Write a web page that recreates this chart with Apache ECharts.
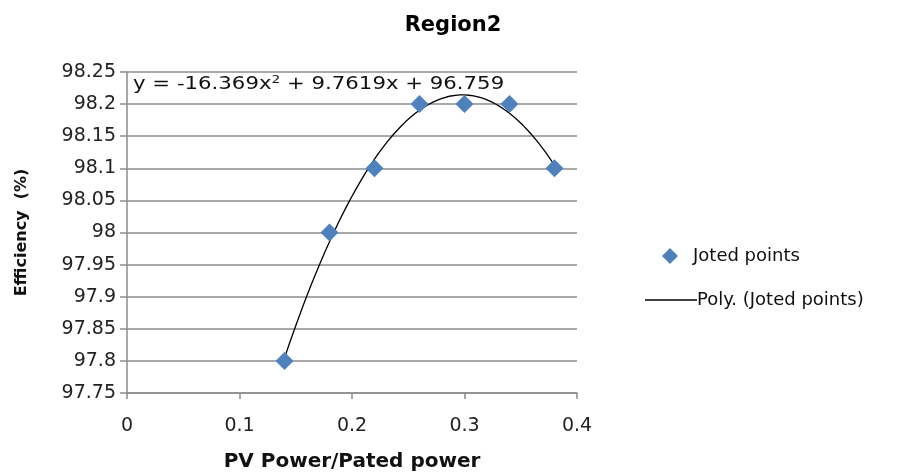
<!DOCTYPE html>
<html><head><meta charset="utf-8">
<script src="https://cdn.jsdelivr.net/npm/echarts@6/dist/echarts.min.js"></script>
<style>html,body{margin:0;padding:0;background:#fff}#c{width:906px;height:473px}</style>
</head><body><div id="c"></div>
<script>
const xValues = [0.14, 0.18, 0.22, 0.26, 0.30, 0.34, 0.38];
const yValues = [97.8, 98.0, 98.1, 98.2, 98.2, 98.2, 98.1];
const xTicks = [0, 0.1, 0.2, 0.3, 0.4];
const yTicks = [97.75, 97.8, 97.85, 97.9, 97.95, 98, 98.05, 98.1, 98.15, 98.2, 98.25];
const seriesName = 'Joted points';
const trendName = 'Poly. (Joted points)';
const titleText = 'Region2';
const xTitle = 'PV Power/Pated power';
const yTitle = 'Efficiency  (%)';

// least squares quadratic fit (Excel polynomial trendline, order 2)
function quadFit(xs, ys) {
  let S = [0,0,0,0,0], T = [0,0,0];
  for (let i = 0; i < xs.length; i++) {
    let p = 1;
    for (let k = 0; k < 5; k++) { S[k] += p; if (k < 3) T[k] += p * ys[i]; p *= xs[i]; }
  }
  const A = [[S[0],S[1],S[2],T[0]],[S[1],S[2],S[3],T[1]],[S[2],S[3],S[4],T[2]]];
  for (let i = 0; i < 3; i++) {
    for (let j = i + 1; j < 3; j++) {
      const f = A[j][i] / A[i][i];
      for (let k = i; k < 4; k++) A[j][k] -= f * A[i][k];
    }
  }
  const r = [0,0,0];
  for (let i = 2; i >= 0; i--) {
    let s = A[i][3];
    for (let k = i + 1; k < 3; k++) s -= A[i][k] * r[k];
    r[i] = s / A[i][i];
  }
  return r; // c0, c1, c2
}
const coef = quadFit(xValues, yValues);
const trend = [];
const x0 = Math.min(...xValues), x1 = Math.max(...xValues);
for (let i = 0; i <= 60; i++) {
  const x = x0 + (x1 - x0) * i / 60;
  trend.push([x, coef[0] + coef[1] * x + coef[2] * x * x]);
}
const points = xValues.map((x, i) => [x, yValues[i]]);

const font = '"DejaVu Sans", sans-serif';
const chart = echarts.init(document.getElementById('c'));
chart.setOption({
  animation: false,
  backgroundColor: '#fff',
  title: {
    text: titleText, left: 448, top: 10, textAlign: 'center',
    textStyle: { fontFamily: font, fontSize: 21, fontWeight: 'bold', color: '#000' }
  },
  grid: { left: 127, right: 329, top: 72, bottom: 80, containLabel: false, outerBoundsMode: 'none' },
  xAxis: {
    type: 'value', min: 0, max: 0.4, interval: 0.1,
    axisLine: { show: true, onZero: false, lineStyle: { color: '#8c8c8c', width: 1.5 } },
    axisTick: { show: true, length: 6, lineStyle: { color: '#8c8c8c', width: 1.5 } },
    splitLine: { show: false },
    axisLabel: { margin: 24, fontFamily: font, fontSize: 19, color: '#222',
      formatter: v => xTicks.includes(+v.toFixed(2)) ? String(+v.toFixed(2)) : '' },
    name: xTitle, nameLocation: 'middle', nameGap: 59,
    nameTextStyle: { fontFamily: font, fontSize: 20, fontWeight: 'bold', color: '#111' }
  },
  yAxis: {
    type: 'value', min: 97.75, max: 98.25, interval: 0.05,
    axisLine: { show: true, lineStyle: { color: '#8c8c8c', width: 1.5 } },
    axisTick: { show: true, length: 7, lineStyle: { color: '#8c8c8c', width: 1.5 } },
    splitLine: { show: true, lineStyle: { color: '#8c8c8c', width: 1.5 } },
    axisLabel: { margin: 11, fontFamily: font, fontSize: 19, color: '#222',
      formatter: v => { const r = +v.toFixed(2); return yTicks.includes(r) ? String(r) : ''; } },
    name: yTitle, nameLocation: 'middle', nameGap: 97, nameRotate: 90,
    nameTextStyle: { fontFamily: font, fontSize: 16, fontWeight: 'bold', color: '#111' }
  },
  legend: [
    { data: [{ name: seriesName, icon: 'diamond' }], orient: 'vertical', left: 657, top: 242,
      itemWidth: 16, itemHeight: 16, itemGap: 10,
      textStyle: { fontFamily: font, fontSize: 18, color: '#111', padding: [0,0,0,10] } },
    { data: [{ name: trendName, icon: 'rect' }], orient: 'vertical', left: 640, top: 286,
      itemWidth: 52, itemHeight: 1.5, itemGap: 2,
      textStyle: { fontFamily: font, fontSize: 18, color: '#111', padding: [0,0,0,-5] } }
  ],
  series: [
    { name: trendName, type: 'line', data: trend, showSymbol: false, smooth: false,
      lineStyle: { color: '#000', width: 1.3 }, itemStyle: { color: '#000' }, z: 2 },
    { name: seriesName, type: 'scatter', data: points, symbol: 'diamond', symbolSize: 18,
      itemStyle: { color: '#4F81BD', opacity: 1 }, z: 3 }
  ],
  graphic: [
    { type: 'text', x: 133, y: 75, scaleX: 1.25, z: 10,
      style: { text: '{a|y = -16.369x}{s|2}{a| + 9.7619x + 96.759}',
        rich: { a: { fontFamily: font, fontSize: 17, fill: '#111' },
                s: { fontFamily: font, fontSize: 11, fill: '#111', verticalAlign: 'top', padding: [0,0,8,0] } } } }
  ]
});
</script></body></html>
